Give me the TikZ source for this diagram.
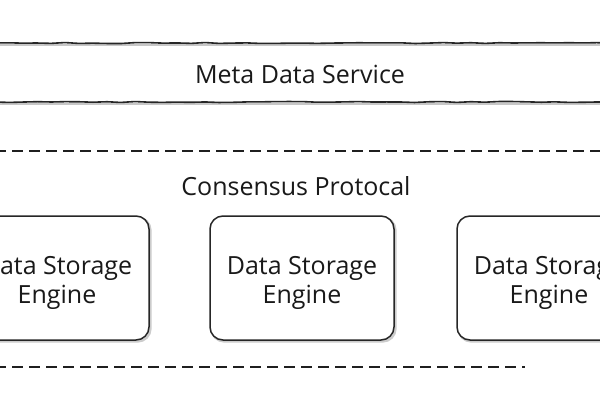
\documentclass[tikz,border=0pt]{standalone}
\usepackage{fontspec}
\setmainfont{Open Sans}
\usetikzlibrary{decorations.pathmorphing}
\begin{document}
\begin{tikzpicture}[x=1pt,y=-1pt,
  sketch/.style={decorate,decoration={random steps,segment length=14pt,amplitude=0.5pt}, line width=1.6pt, line join=round, line cap=round, draw=black!85},
  dashline/.style={line width=2.2pt, dash pattern=on 11pt off 6pt, draw=black!88},
  shadowline/.style={draw=black!22, line width=2.4pt},
  lbl/.style={font=\fontsize{25}{29}\selectfont, text=black!90, inner sep=0pt},
  enginebox/.style={minimum width=184pt, minimum height=124pt, draw=black!85, line width=1.5pt, rounded corners=13pt, fill=white, inner sep=0pt},
  enginetext/.style={lbl, align=center},
  engineshadow/.style={minimum width=184pt, minimum height=124pt, draw=black!20, line width=2.4pt, rounded corners=13pt, inner sep=0pt}]
\useasboundingbox (0,0) rectangle (600,400);
\fill[white] (0,0) rectangle (600,400);
\begin{scope}
\clip (0,0) rectangle (600,400);
% coordinates of the layer lines
\coordinate (t1) at (-5,43);  \coordinate (t2) at (605,43);
\coordinate (b1) at (-5,102); \coordinate (b2) at (605,102);
\coordinate (d1) at (-5,151); \coordinate (d2) at (605,151);
\coordinate (e1a) at (-5,367); \coordinate (e1b) at (525,367);
% shadows
\draw[shadowline] ([yshift=-2pt]t1) -- ([yshift=-2pt]t2);
\draw[shadowline] ([yshift=-2pt]b1) -- ([yshift=-2pt]b2);
\node[engineshadow] at (58.5,279.5) {};
\node[engineshadow] at (303.5,279.5) {};
\node[engineshadow] at (550.5,279.5) {};
% layer lines
\draw[sketch] (t1) -- (t2);
\draw[sketch] (b1) -- (b2);
\draw[dashline] (d1) -- (d2);
\draw[dashline] (e1a) -- (e1b);
% labels
\node[lbl] (meta) at (300,74) {Meta Data Service};
\node[lbl] (cons) at (296,186) {Consensus Protocal};
% engines
\node[enginebox] (eng1) at (57,278) {};
\node[enginebox] (eng2) at (302,278) {};
\node[enginebox] (eng3) at (549,278) {};
\node[enginetext] (eng1t) at ([yshift=-5pt]eng1.center) {Data Storage\\Engine};
\node[enginetext] (eng2t) at ([yshift=-5pt]eng2.center) {Data Storage\\Engine};
\node[enginetext] (eng3t) at ([yshift=-5pt]eng3.center) {Data Storage\\Engine};
\end{scope}
\end{tikzpicture}
\end{document}
